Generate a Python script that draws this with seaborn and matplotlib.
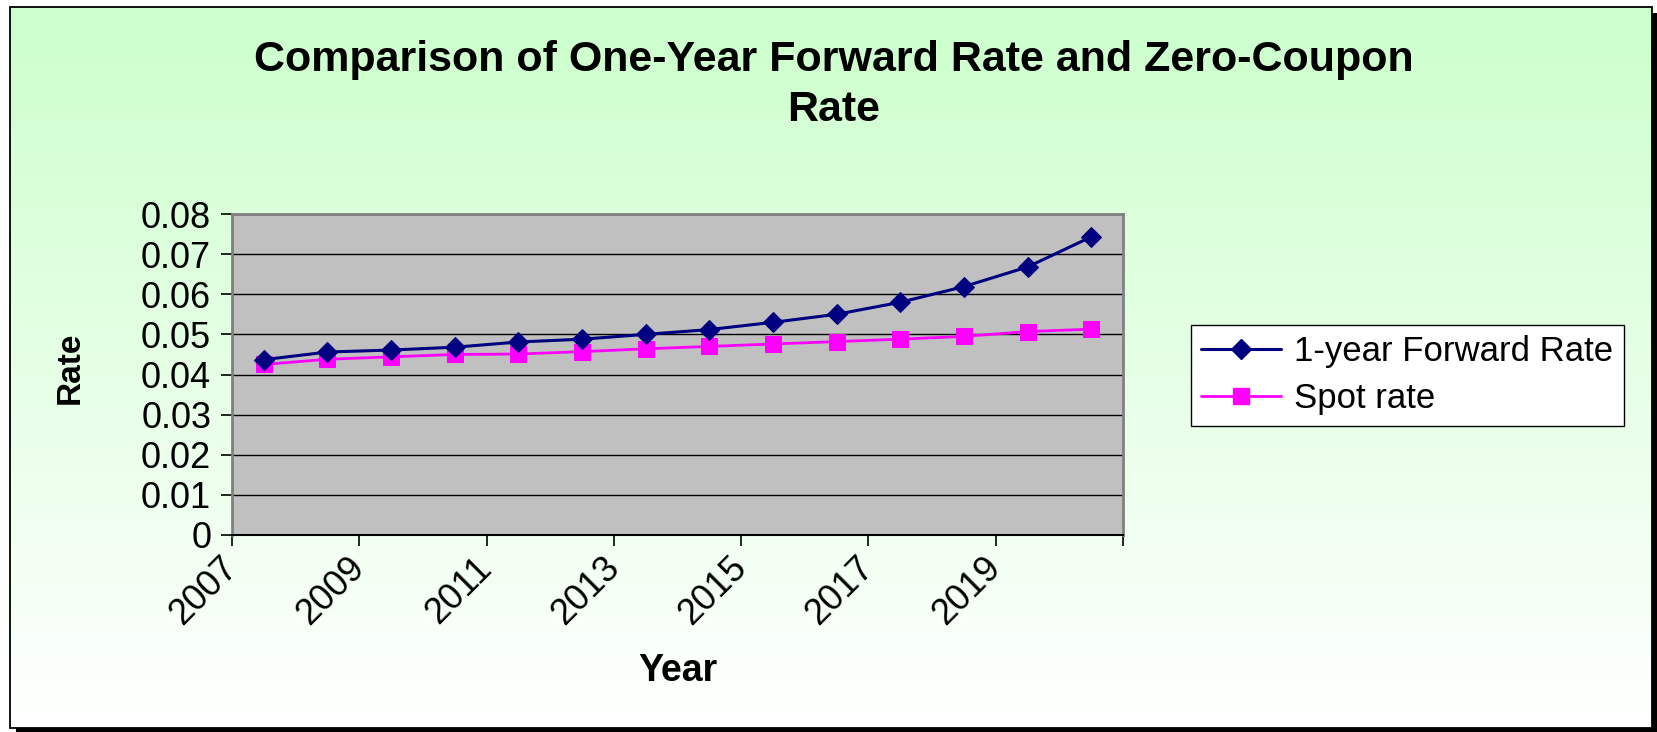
import numpy as np
import pandas as pd
import matplotlib
matplotlib.use("Agg")
import matplotlib.pyplot as plt
import seaborn as sns
from matplotlib.patches import Rectangle
from matplotlib.lines import Line2D

# ---- data -------------------------------------------------------------
years = list(range(2007, 2021))
forward_rate = [0.0437, 0.0456, 0.0461, 0.0468, 0.0481, 0.0488, 0.0500,
                0.0512, 0.0530, 0.0550, 0.0580, 0.0619, 0.0668, 0.0743]
spot_rate = [0.0425, 0.0438, 0.0444, 0.0450, 0.0451, 0.0457, 0.0464,
             0.0470, 0.0476, 0.0482, 0.0488, 0.0495, 0.0507, 0.0513]
year_tick_labels = ["2007", "2009", "2011", "2013", "2015", "2017", "2019", ""]
rate_ticks = [0, 0.01, 0.02, 0.03, 0.04, 0.05, 0.06, 0.07, 0.08]
series_names = ["1-year Forward Rate", "Spot rate"]
title_text = "Comparison of One-Year Forward Rate and Zero-Coupon\nRate"

# ---- style ------------------------------------------------------------
sns.set_style("ticks")
plt.rcParams["font.family"] = ["Liberation Sans", "DejaVu Sans"]
for key in ["text.color", "axes.labelcolor", "xtick.color", "ytick.color"]:
    plt.rcParams[key] = "black"

W, H = 1658, 732
fig = plt.figure(figsize=(W / 100, H / 100), dpi=100)
fig.patch.set_facecolor("white")

# chart-area background: green-to-white vertical gradient with a drop shadow frame
bg = fig.add_axes([0, 0, 1, 1], zorder=-10)
bg.set_xlim(0, W)
bg.set_ylim(H, 0)
bg.axis("off")
t = np.linspace(0, 1, 256)[:, None, None]
top_col = np.array([204, 255, 204]) / 255
bot_col = np.array([255, 255, 255]) / 255
grad = top_col * (1 - t) + bot_col * t
bg.imshow(grad, extent=(10, 1652, 728, 7), aspect="auto", interpolation="bilinear")
bg.add_patch(Rectangle((1652, 13), 6, 719, facecolor="black", edgecolor="none"))
bg.add_patch(Rectangle((16, 728), 1642, 4, facecolor="black", edgecolor="none"))
bg.add_patch(Rectangle((10, 7), 1642, 721, fill=False, edgecolor="black", linewidth=1.3))

# ---- plot area --------------------------------------------------------
ax = fig.add_axes([232 / W, 1 - 535 / H, (1123 - 232) / W, (535 - 214) / H])
ax.set_facecolor("#C0C0C0")

df = pd.DataFrame({
    "pos": np.arange(len(years)) + 0.5,
    "year": years,
    "forward": forward_rate,
    "spot": spot_rate,
})

sns.lineplot(data=df, x="pos", y="forward", ax=ax, color="#000080",
             linewidth=2.2, marker="D", markersize=10.5,
             markeredgecolor="#000080", markerfacecolor="#000080", zorder=4)
sns.lineplot(data=df, x="pos", y="spot", ax=ax, color="#FF00FF",
             linewidth=2.0, marker="s", markersize=12,
             markeredgecolor="#FF00FF", markerfacecolor="#FF00FF", zorder=3)

ax.set_xlim(0, len(years))
ax.set_ylim(0, 0.08)

ax.set_yticks(rate_ticks)
ax.set_yticklabels(["0" if v == 0 else f"{v:.2f}" for v in rate_ticks])
ax.set_xticks(np.arange(0, len(years) + 1, 2))
ax.set_xticklabels(year_tick_labels, rotation=45, ha="right", va="center",
                   rotation_mode="anchor")

ax.tick_params(axis="both", direction="out", length=8, width=1.2,
               color="black", labelsize=26, labelcolor="black")
ax.tick_params(axis="y", pad=7)
ax.tick_params(axis="x", pad=12)

ax.yaxis.grid(True, color="black", linewidth=1.0)
ax.xaxis.grid(False)
ax.set_axisbelow(True)

for side in ["top", "right", "left"]:
    ax.spines[side].set_visible(True)
    ax.spines[side].set_color("#808080")
    ax.spines[side].set_linewidth(2.0)
ax.spines["bottom"].set_color("black")
ax.spines["bottom"].set_linewidth(1.5)

ax.set_xlabel("Year", fontsize=27, fontweight="bold", va="center", ha="center")
ax.xaxis.set_label_coords((678 - 232) / 891, (535 - 671) / 321)
ax.set_ylabel("Rate", fontsize=24, fontweight="bold", va="center", ha="center")
ax.yaxis.set_label_coords((70 - 232) / 891, (535 - 368) / 321)

# ---- legend -----------------------------------------------------------
handles = [
    Line2D([], [], color="#000080", linewidth=2.2, marker="D", markersize=10.5,
           markerfacecolor="#000080", markeredgecolor="#000080"),
    Line2D([], [], color="#FF00FF", linewidth=2.0, marker="s", markersize=12,
           markerfacecolor="#FF00FF", markeredgecolor="#FF00FF"),
]
leg = ax.legend(handles, series_names, loc="upper left",
                bbox_to_anchor=(1191 / W, 1 - 325 / H),
                bbox_transform=fig.transFigure, frameon=True, fancybox=False,
                edgecolor="black", facecolor="white", framealpha=1,
                borderaxespad=0, fontsize=25, handlelength=2.3,
                handletextpad=0.38, borderpad=0.3, labelspacing=0.4)
leg.get_frame().set_linewidth(1.0)

# ---- title ------------------------------------------------------------
fig.text(834 / W, 1 - 85 / H, title_text, ha="center", va="center",
         fontsize=31, fontweight="bold", linespacing=1.3)

fig.savefig("out.png", dpi=100)
